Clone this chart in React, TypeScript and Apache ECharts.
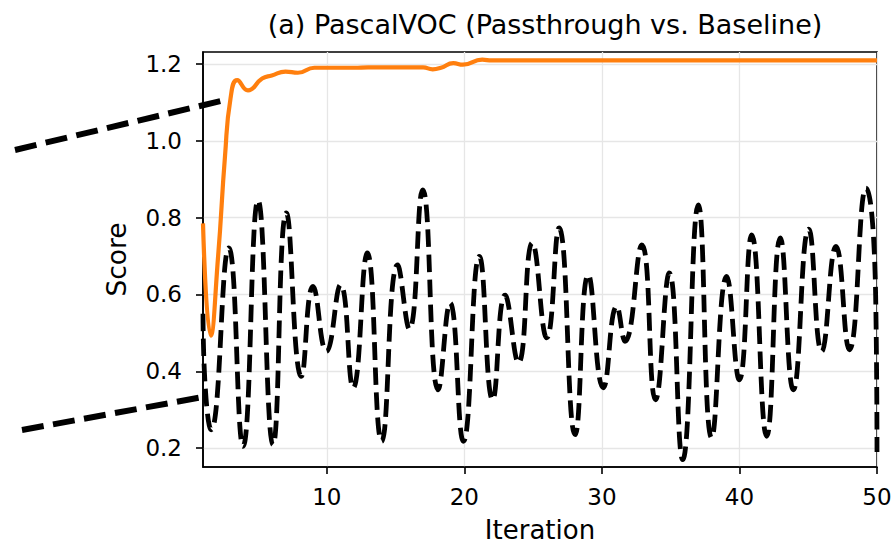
import React, { useEffect, useRef } from "react";
import * as echarts from "echarts";

// Baseline (black dashed) — values at the curve's turning points
const baselineIter = [1, 1.1, 1.6, 2.87, 3.91, 5.0, 6.09, 7.06, 8.15, 9.0, 9.97, 11.0, 11.92, 12.94, 13.99, 15.15, 16.0, 16.97, 18.1, 18.96, 19.93, 21.09, 22.06, 22.96, 23.93, 24.94, 25.99, 26.88, 28.05, 29.01, 30.1, 31.08, 31.68, 32.9, 33.9, 34.9, 35.87, 37.01, 37.98, 39.07, 39.99, 40.89, 41.98, 42.97, 43.92, 45.03, 45.98, 47.02, 47.99, 49.2, 49.9, 50];
const baselineScore = [0.55, 0.4, 0.248, 0.721, 0.205, 0.845, 0.209, 0.812, 0.387, 0.621, 0.452, 0.625, 0.357, 0.708, 0.218, 0.677, 0.51, 0.872, 0.352, 0.578, 0.218, 0.699, 0.326, 0.598, 0.422, 0.734, 0.487, 0.773, 0.235, 0.651, 0.357, 0.569, 0.478, 0.729, 0.326, 0.656, 0.17, 0.833, 0.227, 0.647, 0.378, 0.755, 0.231, 0.747, 0.352, 0.77, 0.452, 0.725, 0.456, 0.877, 0.6, 0.19];

// Passthrough (orange)
const passIter = [1, 1.56, 2.1, 2.6, 3.0, 3.49, 4.27, 5.3, 6, 7, 7.9, 9.1, 12, 13, 17, 17.7, 18.3, 19.2, 19.9, 21.3, 22, 30, 40, 50];
const passScore = [0.785, 0.493, 0.70, 0.96, 1.11, 1.158, 1.131, 1.162, 1.17, 1.18, 1.177, 1.19, 1.19, 1.191, 1.191, 1.186, 1.19, 1.202, 1.198, 1.211, 1.209, 1.209, 1.209, 1.209];

const xTicks = [10, 20, 30, 40, 50];
const yTicks = [0.2, 0.4, 0.6, 0.8, 1.0, 1.2];

const FONT = "DejaVu Sans";

export default function App() {
  const ref = useRef<HTMLDivElement>(null);
  useEffect(() => {
    if (!ref.current) return;
    const chart = echarts.init(ref.current, undefined, { renderer: "svg" });
    const zip = (xs: number[], ys: number[]) => xs.map((x, i) => [x, ys[i]]);
    chart.setOption({
      animation: false,
      backgroundColor: "#ffffff",
      title: {
        text: "(a) PascalVOC (Passthrough vs. Baseline)",
        left: 540,
        textAlign: "center",
        top: 6,
        textStyle: { fontFamily: FONT, fontSize: 27, fontWeight: "normal", color: "#000" },
      },
      grid: {
        left: 203,
        right: 16,
        top: 52,
        bottom: 80,
        show: true,
        borderColor: "#000",
        borderWidth: 1.6,
        containLabel: false,
        outerBoundsMode: "none",
      },
      xAxis: {
        type: "value",
        min: 1,
        max: 50,
        name: "Iteration",
        nameLocation: "middle",
        nameGap: 50,
        nameTextStyle: { fontFamily: FONT, fontSize: 26, color: "#000" },
        axisLine: { show: true, lineStyle: { color: "#000", width: 1.6 } },
        axisTick: { show: true, length: 7, customValues: xTicks, lineStyle: { color: "#000", width: 1.6 } },
        axisLabel: { customValues: xTicks, fontFamily: FONT, fontSize: 23, color: "#000", margin: 18 },
        splitLine: { show: true, lineStyle: { color: "#e6e6e6", width: 1.3 } },
      },
      yAxis: {
        type: "value",
        min: 0.151,
        max: 1.231,
        name: "Score",
        nameLocation: "middle",
        nameGap: 73,
        nameTextStyle: { fontFamily: FONT, fontSize: 26.5, color: "#000" },
        axisLine: { show: true, lineStyle: { color: "#000", width: 1.6 } },
        axisTick: { show: true, length: 7, customValues: yTicks, lineStyle: { color: "#000", width: 1.6 } },
        axisLabel: {
          customValues: yTicks,
          fontFamily: FONT,
          fontSize: 23,
          color: "#000",
          margin: 21,
          formatter: (v: number) => v.toFixed(1),
        },
        splitLine: { show: true, lineStyle: { color: "#e6e6e6", width: 1.3 } },
      },
      graphic: [
        {
          type: "line",
          z: 1,
          shape: { x1: 15, y1: 150, x2: 225, y2: 100 },
          style: { stroke: "#000", lineWidth: 6, lineDash: [22, 9.5] },
        },
        {
          type: "line",
          z: 1,
          shape: { x1: 22, y1: 430, x2: 203, y2: 397 },
          style: { stroke: "#000", lineWidth: 6, lineDash: [22, 9.5] },
        },
      ],
      series: [
        {
          name: "Baseline",
          type: "line",
          data: zip(baselineIter, baselineScore),
          smooth: 0.5,
          showSymbol: false,
          symbol: "none",
          clip: true,
          lineStyle: { color: "#000", width: 4.8, type: [17.5, 7.5] },
          z: 3,
        },
        {
          name: "Passthrough",
          type: "line",
          data: zip(passIter, passScore),
          smooth: 0.5,
          showSymbol: false,
          symbol: "none",
          clip: true,
          lineStyle: { color: "#ff7f0e", width: 4.2 },
          z: 4,
        },
      ],
    });
    return () => chart.dispose();
  }, []);
  return <div ref={ref} style={{ width: 893, height: 547, position: "absolute", left: 0, top: 0 }} />;
}
